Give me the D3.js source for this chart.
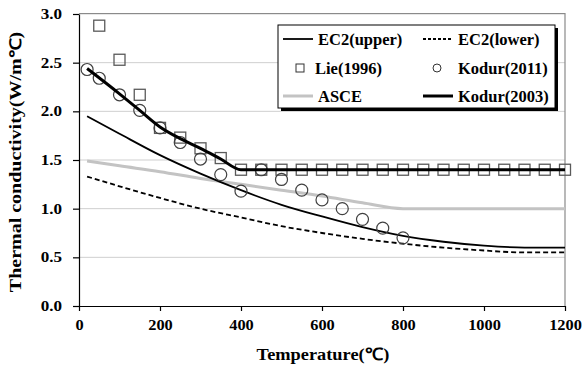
<!DOCTYPE html>
<html>
<head>
<meta charset="utf-8">
<script src="https://cdn.jsdelivr.net/npm/d3@7"></script>
<style>
  body { margin: 0; background: #fff; }
  svg text { font-family: "Liberation Serif", "Times New Roman", serif; font-weight: bold; }
</style>
</head>
<body>
<div id="chart"></div>
<script>
// values
var ec2Temp = [20, 100, 200, 300, 400, 500, 600, 700, 800, 900, 1000, 1100, 1200]
var ec2Upper = [1.95, 1.77, 1.55, 1.36, 1.19, 1.04, 0.92, 0.81, 0.72, 0.66, 0.62, 0.60, 0.60]
var ec2Lower = [1.33, 1.23, 1.11, 1.00, 0.91, 0.82, 0.75, 0.69, 0.64, 0.60, 0.57, 0.55, 0.55]

var lieTemp = [50, 100, 150, 200, 250, 300, 350, 400, 450, 500, 550, 600, 650, 700, 750, 800,
    850, 900, 950, 1000, 1050, 1100, 1150, 1200]
var lieVal = [2.88, 2.53, 2.17, 1.83, 1.73, 1.62, 1.52, 1.40, 1.40, 1.40, 1.40, 1.40, 1.40, 1.40, 1.40, 1.40,
    1.40, 1.40, 1.40, 1.40, 1.40, 1.40, 1.40, 1.40]

var kodur11Temp = [20, 50, 100, 150, 200, 250, 300, 350, 400, 450, 500, 550, 600, 650, 700, 750, 800]
var kodur11Val = [2.43, 2.34, 2.17, 2.01, 1.83, 1.68, 1.51, 1.35, 1.18, 1.40, 1.30, 1.19, 1.09, 1.00, 0.89, 0.80, 0.70]

var asceTemp = [20, 100, 200, 300, 400, 500, 600, 700, 800, 900, 1000, 1100, 1200]
var asceVal = [1.49, 1.44, 1.38, 1.31, 1.25, 1.19, 1.13, 1.06, 1.00, 1.00, 1.00, 1.00, 1.00]

var kodur03Temp = [20, 100, 150, 200, 250, 300, 350, 400, 600, 800, 1000, 1200]
var kodur03Val = [2.44, 2.18, 2.01, 1.84, 1.72, 1.62, 1.51, 1.40, 1.40, 1.40, 1.40, 1.40]

var xTicks = [0, 200, 400, 600, 800, 1000, 1200]
var yTicks = [0, 0.5, 1.0, 1.5, 2.0, 2.5, 3.0]

var FONT = '"Liberation Serif", "Times New Roman", serif'
var W = 585, H = 369
var margin = {top: 14, right: 20, bottom: 63, left: 79}
var width = W - margin.left - margin.right
var height = H - margin.top - margin.bottom

var svg = d3.select('#chart')
    .append('svg')
    .attr('width', W)
    .attr('height', H)
    .append('g')
    .attr('transform', `translate(${margin.left}, ${margin.top})`)

var xScale = d3.scaleLinear().domain([0, 1200]).range([0, width])
var yScale = d3.scaleLinear().domain([0, 3]).range([height, 0])

function zip(xs, ys) {
    return xs.map((x, i) => [x, ys[i]])
}

// grid
svg.append('g')
    .selectAll('line')
    .data(yTicks.slice(1))
    .enter().append('line')
    .attr('x1', 0)
    .attr('x2', width)
    .attr('y1', d => yScale(d))
    .attr('y2', d => yScale(d))
    .attr('stroke', '#cfcfcf')
    .attr('stroke-width', 1)

// top / right frame
svg.append('path')
    .attr('d', `M0,${yScale(3) - 0.5}H${width}V${height}`)
    .attr('fill', 'none')
    .attr('stroke', '#8a8a8a')
    .attr('stroke-width', 1.2)

var lineFunc = d3.line()
    .x(d => xScale(d[0]))
    .y(d => yScale(d[1]))
    .curve(d3.curveMonotoneX)

svg.append('path')
    .attr('d', lineFunc(zip(asceTemp, asceVal)))
    .attr('stroke', '#c3c3c3')
    .attr('stroke-width', 3)
    .attr('fill', 'none')

svg.append('path')
    .attr('d', lineFunc(zip(ec2Temp, ec2Lower)))
    .attr('stroke', '#000')
    .attr('stroke-width', 1.8)
    .attr('stroke-dasharray', '5,3')
    .attr('fill', 'none')

svg.append('path')
    .attr('d', lineFunc(zip(ec2Temp, ec2Upper)))
    .attr('stroke', '#000')
    .attr('stroke-width', 1.8)
    .attr('fill', 'none')

svg.append('g')
    .selectAll('rect')
    .data(zip(lieTemp, lieVal))
    .enter().append('rect')
    .attr('x', d => xScale(d[0]) - 5.5)
    .attr('y', d => yScale(d[1]) - 5.5)
    .attr('width', 11)
    .attr('height', 11)
    .attr('fill', 'none')
    .attr('stroke', '#5a5a5a')
    .attr('stroke-width', 1.3)

svg.append('g')
    .selectAll('circle')
    .data(zip(kodur11Temp, kodur11Val))
    .enter().append('circle')
    .attr('cx', d => xScale(d[0]))
    .attr('cy', d => yScale(d[1]))
    .attr('r', 6)
    .attr('fill', 'none')
    .attr('stroke', '#404040')
    .attr('stroke-width', 1.2)

svg.append('path')
    .attr('d', lineFunc(zip(kodur03Temp, kodur03Val)))
    .attr('stroke', '#000')
    .attr('stroke-width', 3)
    .attr('fill', 'none')

// axes
var xAxis = svg.append('g')
    .attr('transform', `translate(0, ${height})`)
    .call(d3.axisBottom(xScale).tickValues(xTicks).tickFormat(d3.format('d'))
        .tickSize(5).tickPadding(9).tickSizeOuter(0))
var yAxis = svg.append('g')
    .call(d3.axisLeft(yScale).tickValues(yTicks).tickFormat(d3.format('.1f'))
        .tickSize(6).tickSizeOuter(0))

;[xAxis, yAxis].forEach(ax => {
    ax.attr('font-family', FONT).attr('font-size', 14)
    ax.select('.domain').attr('stroke', '#000').attr('stroke-width', 1.2)
    ax.selectAll('.tick line').attr('stroke', '#000').attr('stroke-width', 1.2)
    ax.selectAll('text').attr('font-family', FONT).attr('font-weight', 'bold')
        .attr('font-size', 14).attr('fill', '#000')
})
xAxis.selectAll('text').attr('transform', 'scale(1.17,1)')
yAxis.selectAll('text').attr('x', -17 / 1.22).attr('transform', 'scale(1.22,1)')

// axis titles
svg.append('text')
    .attr('transform', `translate(${width / 2 + 1}, ${height + 54}) scale(1.08,1)`)
    .attr('text-anchor', 'middle')
    .attr('font-family', FONT)
    .attr('font-weight', 'bold')
    .attr('font-size', 17)
    .text('Temperature(℃)')

svg.append('text')
    .attr('transform', `translate(${21 - margin.left}, ${height / 2 + 2}) rotate(-90) scale(1.25,1)`)
    .attr('text-anchor', 'middle')
    .attr('font-family', FONT)
    .attr('font-weight', 'bold')
    .attr('font-size', 16)
    .text('Thermal conductivity(W/m℃)')

// legend
var lg = svg.append('g').attr('transform', `translate(${278 - margin.left}, ${25 - margin.top})`)
lg.append('rect')
    .attr('x', 3).attr('y', 3).attr('width', 277).attr('height', 83)
    .attr('fill', '#000')
lg.append('rect')
    .attr('x', 0).attr('y', 0).attr('width', 277).attr('height', 83)
    .attr('fill', '#fff').attr('stroke', '#000').attr('stroke-width', 1)

var rows = [14, 43, 71]
var items = [
    {label: 'EC2(upper)', type: 'line', color: '#000', w: 1.8, dash: null, col: 0, row: 0},
    {label: 'EC2(lower)', type: 'line', color: '#000', w: 1.8, dash: '3,2', col: 1, row: 0},
    {label: 'Lie(1996)', type: 'square', col: 0, row: 1},
    {label: 'Kodur(2011)', type: 'circle', col: 1, row: 1},
    {label: 'ASCE', type: 'line', color: '#c3c3c3', w: 3, dash: null, col: 0, row: 2},
    {label: 'Kodur(2003)', type: 'line', color: '#000', w: 3, dash: null, col: 1, row: 2}
]
var colX = [5, 145]
function legendText(x, y, s) {
    lg.append('text').attr('x', x).attr('y', y)
        .attr('font-family', FONT).attr('font-weight', 'bold')
        .attr('font-size', 16.5).text(s)
}
items.forEach(it => {
    var x0 = colX[it.col]
    var y0 = rows[it.row]
    if (it.type == 'line') {
        lg.append('line')
            .attr('x1', x0).attr('x2', x0 + 30)
            .attr('y1', y0).attr('y2', y0)
            .attr('stroke', it.color)
            .attr('stroke-width', it.w)
            .attr('stroke-dasharray', it.dash)
        legendText(x0 + 35, y0 + 5.5, it.label)
    } else if (it.type == 'square') {
        lg.append('rect')
            .attr('x', x0 + 13).attr('y', y0 - 4)
            .attr('width', 8).attr('height', 8)
            .attr('fill', 'none').attr('stroke', '#333').attr('stroke-width', 1)
        legendText(x0 + 32, y0 + 5.5, it.label)
    } else {
        lg.append('circle')
            .attr('cx', x0 + 14).attr('cy', y0)
            .attr('r', 4)
            .attr('fill', 'none').attr('stroke', '#333').attr('stroke-width', 1)
        legendText(x0 + 35, y0 + 5.5, it.label)
    }
})
</script>
</body>
</html>
